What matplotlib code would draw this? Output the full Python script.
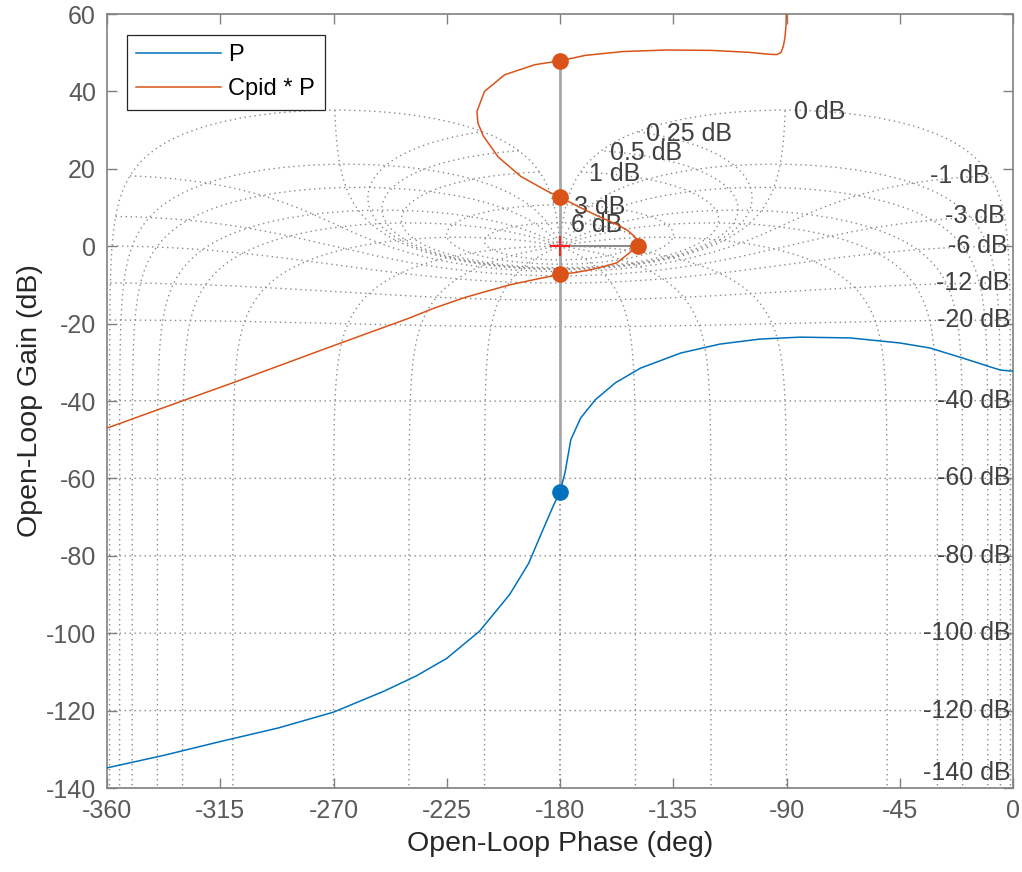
import numpy as np
import matplotlib.pyplot as plt

# open-loop response of the plant P
p_phase = [-360, -337, -315, -292, -270, -250, -237, -225, -212, -200, -192.5, -186.6,
           -182.6, -180, -178, -175.7, -171.8, -166, -158, -148, -132, -116.5, -100.6,
           -84.6, -64.8, -45, -33, -20, -9, -5, 0]
p_gain = [-134.8, -131.5, -128, -124.5, -120.4, -115, -111, -106.5, -99.5, -90, -82,
          -73, -67, -63.5, -58.5, -50, -44.4, -39.7, -35.3, -31.5, -27.6, -25.3, -24,
          -23.5, -23.7, -25, -26.3, -28.9, -31.2, -32, -32.3]

# open-loop response of Cpid * P
cp_phase = [-360, -340, -310, -270, -240, -230, -218.5, -210, -200, -190, -180, -174,
            -168, -163, -157.4, -152, -149, -148.7, -150.5, -153.4, -158, -164, -172,
            -180, -185, -195.5, -204.5, -210.5, -212.6, -213, -210, -202, -190, -180,
            -170, -155, -137.5, -120, -105, -97, -94, -92.2, -91.2, -90.6, -90.2, -90]
cp_gain = [-47.0, -42.3, -35.3, -25.7, -18.6, -16, -13.4, -11.8, -10, -8.6, -7.3, -6.8,
           -6.1, -5.3, -4.3, -1.5, 0.3, 1.2, 2.6, 4.2, 5.8, 7.5, 10, 12.7, 14.2, 18, 23,
           28.5, 31.8, 34.8, 40, 44.3, 46.9, 47.9, 49.3, 50.3, 50.7, 50.6, 50.1, 49.6,
           49.5, 50, 51.8, 54, 57, 61]

# stability margin markers
p_gm_gain = [-63.5]
cp_gm_gain = [47.9, 12.7, -7.3]
cp_pm_phase = [-149.0]

# Nichols grid levels
grid_gain_db = [6, 3, 1, 0.5, 0.25, 0, -1, -3, -6, -12, -20, -40, -60, -80, -100, -120, -140]
grid_phase_deg = [-1, -5, -10, -20, -30, -50, -90, -120, -150, -180]

BLUE = "#0072BD"
ORANGE = "#D95319"
GRID = "#8a8a8a"
AXC = "#808080"
TXT = "#262626"

plt.rcParams["font.family"] = ["Liberation Sans", "DejaVu Sans"]
plt.rcParams["axes.unicode_minus"] = False


def wrap(deg):
    return np.mod(deg, 360.0) - 360.0


fig = plt.figure(figsize=(10.22, 8.72), dpi=100)
ax = fig.add_axes([107 / 1022, 84 / 872, 906 / 1022, 774 / 872])

dots = dict(color=GRID, lw=1.0, linestyle=(0, (1, 2.6)), zorder=1)

# closed-loop gain contours
th = np.deg2rad(np.linspace(1, 359, 6000))
for g in grid_gain_db:
    m = 10 ** (g / 20)
    T = m * np.exp(1j * th)
    L = T / (1 - T)
    ph = wrap(np.angle(L, deg=True))
    gn = 20 * np.log10(np.abs(L))
    ax.plot(ph, gn, **dots)
    lab = f"{g:g} dB"
    ly = max(gn[-1], -136)
    if g >= 0:
        ax.annotate(lab, (ph[-1], ly - 0.6), xytext=(6, 0), textcoords="offset points",
                    ha="left", va="center", fontsize=18, color="#404040", zorder=2)
    else:
        ax.text(ph[-1], ly, lab, ha="right", va="center", fontsize=18,
                color="#404040", zorder=2)

# closed-loop phase contours
mm = np.sort(np.concatenate([np.logspace(-8, 8, 6000), np.linspace(0.7, 1.4, 6000)]))
for p in grid_phase_deg:
    T = mm * np.exp(1j * np.deg2rad(p))
    L = T / (1 - T)
    ph = wrap(np.angle(L, deg=True))
    gn = 20 * np.log10(np.abs(L))
    ax.plot(ph, gn, **dots)
    ax.plot(-360 - ph, gn, **dots)

# margin indicator lines
ax.plot([-180, -180], [p_gm_gain[0], cp_gm_gain[0]], color="#a8a8a8", lw=2, zorder=3)
ax.plot([-180, cp_pm_phase[0]], [0, 0], color="#8c8c8c", lw=1.5, zorder=3)
ax.plot([-180], [0], "+", color="#ff2020", ms=14, mew=1.5, zorder=4)

ax.plot(p_phase, p_gain, color=BLUE, lw=1.1, zorder=5, label="P")
ax.plot(cp_phase, cp_gain, color=ORANGE, lw=1.1, zorder=5, label="Cpid * P")

ax.plot([-180] * len(p_gm_gain), p_gm_gain, "o", color=BLUE, ms=11, zorder=6)
ax.plot([-180] * len(cp_gm_gain), cp_gm_gain, "o", color=ORANGE, ms=11, zorder=6)
ax.plot(cp_pm_phase, [0], "o", color=ORANGE, ms=11, zorder=6)

ax.set_xlim(-360, 0)
ax.set_ylim(-140, 60)
ax.set_xticks(np.arange(-360, 1, 45))
ax.set_yticks(np.arange(-140, 61, 20))
ax.tick_params(direction="in", length=7, width=1, colors=AXC, labelcolor="#5a5a5a",
               labelsize=18, top=True, right=True, pad=8)
for s in ax.spines.values():
    s.set_color(AXC)
    s.set_linewidth(1.2)

ax.set_xlabel("Open-Loop Phase (deg)", fontsize=20.5, color=TXT, labelpad=6)
ax.set_ylabel("Open-Loop Gain (dB)", fontsize=20.5, color=TXT, labelpad=2)

leg = ax.legend(loc="upper left", bbox_to_anchor=(0.022, 0.973), borderaxespad=0,
                fontsize=17, handlelength=3.6, handletextpad=0.3, labelspacing=0.5,
                fancybox=False, framealpha=1, edgecolor="#262626")
leg.get_frame().set_linewidth(0.9)

fig.savefig("out.png", dpi=100)
